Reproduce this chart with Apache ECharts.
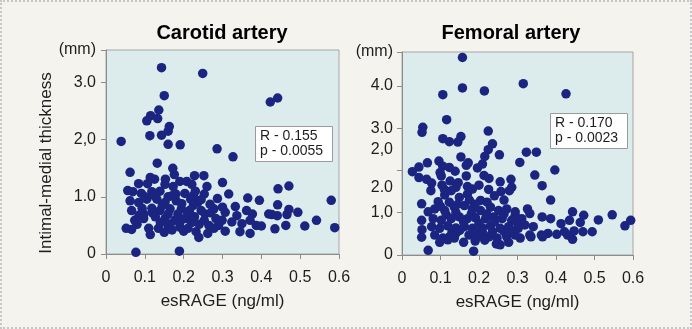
<!DOCTYPE html>
<html>
<head>
<meta charset="utf-8">
<script src="https://cdn.jsdelivr.net/npm/echarts@6/dist/echarts.min.js"></script>
<style>
html,body{margin:0;padding:0;background:#f4f3ee;}
#c{width:692px;height:329px;box-sizing:border-box;border:2px dotted #c6c6c6;}
</style>
</head>
<body>
<div id="c"></div>
<script>
// ---------- DATA ----------
const panelTitles = ["Carotid artery", "Femoral artery"];
const xAxisName = "esRAGE (ng/ml)";
const yAxisName = "Intimal-medial thickness";
const unitLabel = "(mm)";
const xTickLabels = ["0", "0.1", "0.2", "0.3", "0.4", "0.5", "0.6"];
const carotidYTickLabels = ["0", "1.0", "2,0", "3.0"];
const femoralYTickLabels = ["0", "1,0", "", "3.0", "4.0"];
const femoralExtraLabelValues = [1.6, 2.5];
const femoralExtraLabels = ["2.0", "2,0"];
const carotidStats = ["R - 0.155", "p - 0.0055"];
const femoralStats = ["R - 0.170", "p - 0.0023"];

const carotidX = [
0.143,0.249,0.150,0.423,0.442,0.136,0.115,0.105,0.133,0.163,0.160,0.113,0.143,0.039,0.160,0.191,0.286,0.327,0.132,0.062,
0.172,0.176,0.228,0.252,0.260,0.300,0.471,0.443,0.365,0.395,0.580,0.442,0.471,0.494,0.419,0.427,0.441,0.542,0.512,0.589,
0.463,0.435,0.077,0.189,0.052,0.066,
0.114,0.125,0.153,0.084,0.107,0.152,0.190,0.208,0.221,0.056,0.069,0.091,0.118,0.139,0.173,0.203,0.230,0.253,0.287,0.062,
0.084,0.105,0.131,0.152,0.181,0.218,0.236,0.268,0.066,0.093,0.118,0.139,0.165,0.194,0.215,0.245,0.278,0.074,0.097,0.127,
0.152,0.177,0.203,0.228,0.253,0.283,0.110,0.114,0.135,0.160,0.190,0.211,0.232,0.239,0.262,0.278,
0.316,0.466,0.333,0.362,0.377,0.307,0.337,0.299,0.324,0.350,0.371,0.387,0.400,0.307,0.345,0.371,
0.100,0.125,0.145,0.170,0.195,0.160,0.185,0.210,0.120,0.098,0.140,0.165,0.190,0.220,0.240,0.265,0.255,0.270,0.290,0.300,
0.225,0.245,0.180,0.080,0.085,0.200,0.170,0.150,0.225,0.160
];
const carotidY = [
3.26,3.16,2.77,2.66,2.73,2.52,2.42,2.33,2.37,2.23,2.15,2.07,2.08,1.97,1.92,1.91,1.84,1.70,1.59,1.43,
1.50,1.39,1.37,1.37,1.18,1.25,1.19,1.14,0.98,0.94,0.94,0.86,0.78,0.73,0.70,0.69,0.67,0.59,0.49,0.46,
0.50,0.44,0.03,0.05,0.45,0.43,
1.34,1.31,1.31,1.23,1.23,1.22,1.27,1.27,1.22,1.11,1.09,1.06,1.09,1.10,1.18,1.06,1.10,1.05,0.97,0.93,
0.90,0.96,0.96,0.90,0.93,0.96,0.90,0.87,0.76,0.80,0.80,0.76,0.79,0.79,0.76,0.76,0.79,0.59,0.62,0.65,
0.62,0.59,0.62,0.65,0.59,0.62,0.45,0.34,0.45,0.49,0.47,0.45,0.39,0.29,0.36,0.45,
1.05,0.69,0.83,0.76,0.70,0.73,0.67,0.59,0.56,0.53,0.59,0.50,0.49,0.40,0.39,0.36,
1.00,1.02,0.85,1.02,0.88,0.70,0.70,0.68,0.72,0.70,0.55,0.52,0.55,0.55,0.52,0.50,0.70,0.72,0.50,0.82,
1.02,0.95,1.05,0.52,0.68,0.40,0.42,0.38,0.85,1.00
];

const femoralX = [
0.157,0.157,0.214,0.315,0.106,0.426,0.116,0.054,0.052,0.224,0.106,0.123,0.145,0.153,0.235,0.224,0.215,0.153,0.172,0.167,
0.253,0.323,0.349,0.306,0.397,0.027,0.044,0.066,0.096,0.106,0.123,0.138,0.099,0.102,0.196,0.209,0.167,0.213,0.226,0.044,
0.064,0.077,0.075,0.104,0.125,0.146,0.255,0.257,0.283,0.285,0.279,0.345,0.364,0.386,0.051,0.068,0.051,0.052,0.051,0.068,
0.186,0.443,0.472,0.510,0.546,0.579,0.594,0.494,0.470,0.443,0.402,0.364,0.386,0.245,
0.094,0.111,0.128,0.123,0.149,0.170,0.183,0.204,0.221,0.085,0.111,0.136,0.162,0.183,0.204,0.230,0.251,0.272,0.294,0.081,
0.102,0.128,0.149,0.170,0.191,0.217,0.238,0.260,0.285,0.077,0.098,0.119,0.140,0.162,0.183,0.209,0.230,0.255,0.277,0.085,
0.106,0.123,0.140,0.174,0.196,0.226,0.247,0.272,0.294,0.098,0.119,0.136,0.255,0.277,
0.326,0.332,0.311,0.294,0.319,0.341,0.413,0.435,0.463,0.302,0.332,0.362,0.379,0.422,0.430,0.447,0.307,0.335,0.365,
0.100,0.140,0.160,0.180,0.200,0.220,0.240,0.115,0.130,0.150,0.190,0.210,0.235,0.265,0.285,0.300,0.265,0.190,0.145,0.215,
0.190,0.160,0.175,0.110,0.140,0.170,0.200,0.225,0.240,0.265
];
const femoralY = [
4.67,3.95,3.88,4.05,3.79,3.81,3.20,3.02,2.90,2.93,2.75,2.68,2.67,2.80,2.63,2.49,2.33,2.32,2.18,2.12,
2.37,2.43,2.43,2.19,2.01,1.97,2.08,2.18,2.22,2.10,2.07,1.98,1.95,1.87,2.06,2.15,1.87,1.88,1.81,1.83,
1.79,1.70,1.52,1.65,1.75,1.71,1.73,1.50,1.79,1.60,1.52,1.89,1.64,1.30,1.21,1.02,0.82,0.60,0.42,0.11,
0.09,1.02,0.94,0.83,0.95,0.69,0.82,0.55,0.55,0.37,0.49,0.90,0.86,0.26,
1.26,1.42,1.52,1.25,1.36,1.44,1.56,1.29,1.25,1.09,1.05,1.13,1.17,1.09,1.05,1.13,1.05,1.09,1.02,0.86,
0.82,0.86,0.90,0.86,0.88,0.86,0.90,0.86,0.82,0.67,0.63,0.69,0.64,0.67,0.63,0.64,0.69,0.63,0.67,0.47,
0.40,0.43,0.51,0.47,0.43,0.43,0.40,0.43,0.47,0.30,0.36,0.40,0.24,0.30,
1.09,0.98,0.86,0.94,0.71,0.67,0.74,0.82,0.77,0.63,0.47,0.47,0.51,0.55,0.47,0.57,0.40,0.43,0.43,
1.15,1.00,0.78,0.97,0.75,0.97,0.78,0.95,0.55,0.58,0.55,0.52,0.55,0.55,0.58,0.75,0.97,1.20,1.20,0.35,
0.33,0.30,1.30,1.55,1.60,1.62,1.65,1.55,1.40,1.30
];

// ---------- CHART ----------
const FONT = "'Liberation Sans', Arial, sans-serif";
const TXT = '#1e1e1e';
const DOT = '#1b2581';
function zip(xs, ys){ return xs.map((x,i)=>[x, ys[i]]); }
function xTickFmt(v){ const i = Math.round(v*10); return xTickLabels[i] !== undefined ? xTickLabels[i] : ''; }

const chart = echarts.init(document.getElementById('c'), null, {renderer:'canvas'});

const baseX = {
  type:'value', min:0, max:0.6, interval:0.1,
  axisLine:{show:true, lineStyle:{color:'#8c8c8c', width:1}},
  axisTick:{show:true, length:5, lineStyle:{color:'#8c8c8c'}},
  splitLine:{show:false},
  axisLabel:{color:TXT, fontFamily:FONT, fontSize:16, margin:16, formatter:xTickFmt},
  name:xAxisName, nameLocation:'middle', nameGap:39,
  nameTextStyle:{color:TXT, fontFamily:FONT, fontSize:17}
};

const option = {
  backgroundColor:'#f4f3ee',
  animation:false,
  title:[
    {text:panelTitles[0], left:215, top:16, textAlign:'center',
     textStyle:{fontFamily:FONT, fontSize:20, fontWeight:'bold', color:'#000'}},
    {text:panelTitles[1], left:504, top:16, textAlign:'center',
     textStyle:{fontFamily:FONT, fontSize:20, fontWeight:'bold', color:'#000'}},
    {text:carotidStats.join('\n'), left:253, top:124, backgroundColor:'#ffffff', borderColor:'#9a9a9a', borderWidth:1,
     padding:[3,10,3,5], textStyle:{fontFamily:FONT, fontSize:14, fontWeight:'normal', color:TXT, lineHeight:15}},
    {text:femoralStats.join('\n'), left:548, top:111, backgroundColor:'#ffffff', borderColor:'#9a9a9a', borderWidth:1,
     padding:[3,10,3,5], textStyle:{fontFamily:FONT, fontSize:14, fontWeight:'normal', color:TXT, lineHeight:15}}
  ],
  grid:[
    {left:104, right:351, top:48, bottom:73, show:true, backgroundColor:'#dcebeb', borderColor:'#a6a6a6', borderWidth:1},
    {left:400, right:57, top:50, bottom:72, show:true, backgroundColor:'#dcebeb', borderColor:'#a6a6a6', borderWidth:1}
  ],
  xAxis:[
    Object.assign({}, baseX, {gridIndex:0}),
    Object.assign({}, baseX, {gridIndex:1})
  ],
  yAxis:[
    {type:'value', gridIndex:0, position:'left', min:0, max:3.57, interval:1,
     axisLine:{show:true, lineStyle:{color:'#8c8c8c'}},
     axisTick:{show:true, length:5, lineStyle:{color:'#8c8c8c'}},
     splitLine:{show:false},
     axisLabel:{color:TXT, fontFamily:FONT, fontSize:16, margin:10,
       formatter:function(v){ if (v > 3.5) return unitLabel; const i=Math.round(v); return carotidYTickLabels[i]!==undefined?carotidYTickLabels[i]:''; }},
     name:yAxisName, nameLocation:'middle', nameGap:38, nameRotate:90,
     nameTextStyle:{color:TXT, fontFamily:FONT, fontSize:17, padding:[0,22,0,0]}},
    {type:'value', gridIndex:1, position:'left', min:0, max:4.8, interval:1,
     axisLine:{show:true, lineStyle:{color:'#8c8c8c'}},
     axisTick:{show:true, length:5, lineStyle:{color:'#8c8c8c'}},
     splitLine:{show:false},
     axisLabel:{color:TXT, fontFamily:FONT, fontSize:16, margin:9,
       formatter:function(v){ if (v > 4.5) return unitLabel; const i=Math.round(v); return femoralYTickLabels[i]!==undefined?femoralYTickLabels[i]:''; }}},
    {type:'value', gridIndex:1, position:'left', offset:0, min:0, max:4.8, interval:0.1,
     axisLine:{show:false}, axisTick:{show:false}, splitLine:{show:false},
     axisLabel:{color:TXT, fontFamily:FONT, fontSize:16, margin:9,
       formatter:function(v){ const r=Math.round(v*10)/10; const k=femoralExtraLabelValues.indexOf(r); return k>=0?femoralExtraLabels[k]:''; }}}
  ],
  series:[
    {type:'scatter', xAxisIndex:0, yAxisIndex:0, data:zip(carotidX, carotidY), symbolSize:9.5,
     itemStyle:{color:DOT, opacity:1}},
    {type:'scatter', xAxisIndex:1, yAxisIndex:1, data:zip(femoralX, femoralY), symbolSize:9.5,
     itemStyle:{color:DOT, opacity:1}}
  ]
};
chart.setOption(option);
</script>
</body>
</html>
